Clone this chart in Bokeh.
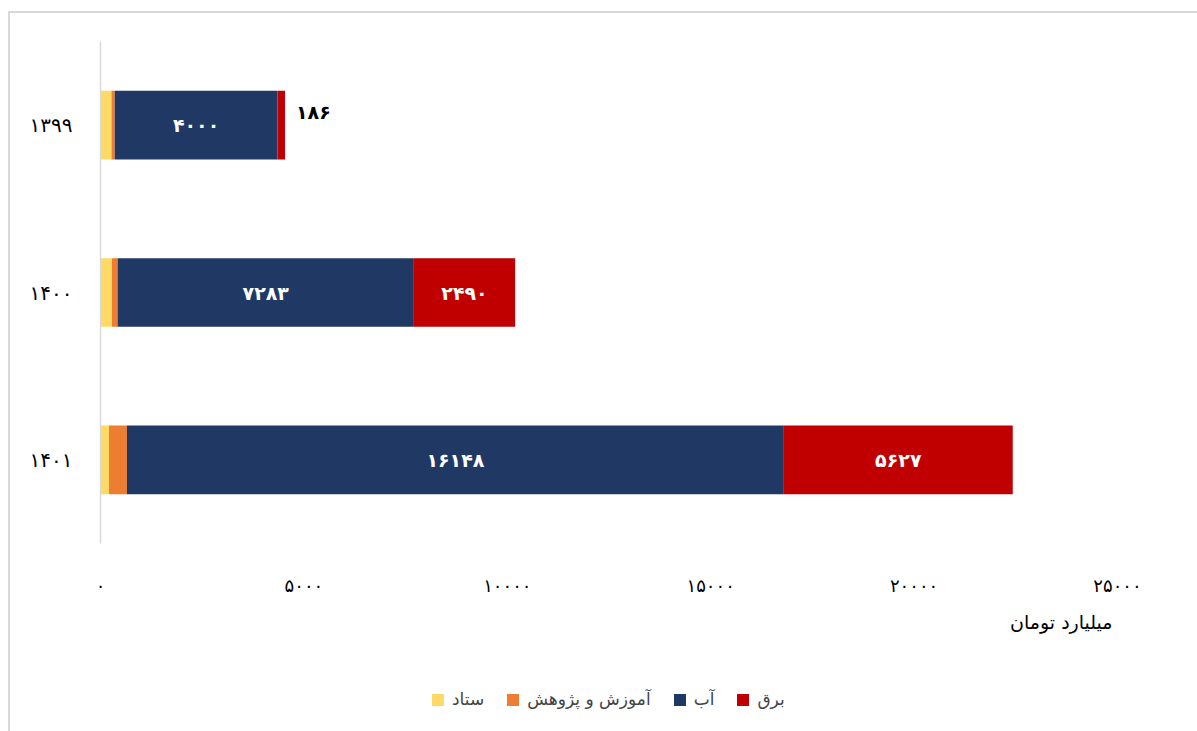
from bokeh.plotting import figure
from bokeh.layouts import column
from bokeh.models import (ColumnDataSource, FactorRange, Range1d, FixedTicker,
                          Legend, LegendItem, Title)
from bokeh.core.properties import value
from bokeh.embed import file_html
from bokeh.resources import INLINE

# ---- data ----
years = ["۱۳۹۹", "۱۴۰۰", "۱۴۰۱"]
series_names = ["ستاد", "آموزش و پژوهش", "آب", "برق"]
setad = [270, 280, 210]
amoozesh = [80, 140, 440]
ab = [4000, 7283, 16148]
bargh = [186, 2490, 5627]
x_ticks = [0, 5000, 10000, 15000, 20000, 25000]
x_title = "میلیارد تومان"
colors = ["#FFD966", "#ED7D31", "#203864", "#C00000"]

FA = str.maketrans("0123456789", "۰۱۲۳۴۵۶۷۸۹")
def fa(n):
    return str(n).translate(FA)

FONT = "DejaVu Sans"

keys = ["setad", "amoozesh", "ab", "bargh"]
source = ColumnDataSource(dict(year=years, setad=setad, amoozesh=amoozesh, ab=ab, bargh=bargh))

p = figure(width=1189, height=650, output_backend="svg", toolbar_location=None,
           y_range=FactorRange(factors=years[::-1]), x_range=Range1d(0, 25000),
           min_border_left=90, min_border_top=28, min_border_right=82, min_border_bottom=120)
p.outline_line_color = None
p.xgrid.visible = False
p.ygrid.visible = False

renderers = p.hbar_stack(keys, y="year", height=0.41, color=colors, line_color=None, source=source)

# data labels
in_x, in_y, in_t = [], [], []
out_x, out_y, out_t = [], [], []
for i, yr in enumerate(years):
    base = setad[i] + amoozesh[i]
    in_x.append(base + ab[i] / 2); in_y.append(yr); in_t.append(fa(ab[i]))
    total = base + ab[i] + bargh[i]
    if bargh[i] > 1000:
        in_x.append(total - bargh[i] / 2); in_y.append(yr); in_t.append(fa(bargh[i]))
    else:
        out_x.append(total); out_y.append(yr); out_t.append(fa(bargh[i]))

p.text(x=in_x, y=in_y, text=in_t, text_color="white", text_font=value(FONT),
       text_font_style="bold", text_font_size="19px", text_align="center", text_baseline="middle")
p.text(x=out_x, y=out_y, text=out_t, text_color="black", text_font=value(FONT),
       text_font_style="bold", text_font_size="19px", text_align="left", text_baseline="middle",
       x_offset=11, y_offset=-13)

# axes
xa = p.xaxis[0]
xa.ticker = FixedTicker(ticks=x_ticks)
xa.major_label_overrides = {t: fa(t) for t in x_ticks}
xa.axis_line_color = None
xa.major_tick_line_color = None
xa.minor_tick_line_color = None
xa.major_label_text_font = FONT
xa.major_label_text_font_size = "18px"
xa.major_label_text_color = "#000000"
xa.major_label_standoff = 25

ya = p.yaxis[0]
ya.axis_line_color = "#d9d9d9"
ya.axis_line_width = 1.5
ya.major_tick_line_color = None
ya.minor_tick_line_color = None
ya.major_label_text_font = FONT
ya.major_label_text_font_size = "20px"
ya.major_label_text_color = "#000000"
ya.major_label_standoff = 22

p.add_layout(Title(text=x_title, align="right", text_font=FONT, text_font_size="19px",
                   text_font_style="normal", text_color="#000000", standoff=20, offset=5), "below")

# legend strip below the chart (swatch renderers lie far outside the visible range)
p2 = figure(width=1189, height=70, output_backend="svg", toolbar_location=None,
            x_range=Range1d(0, 1), y_range=Range1d(0, 1), x_axis_type=None, y_axis_type=None,
            min_border=0)
p2.outline_line_color = None
p2.xgrid.visible = False
p2.ygrid.visible = False
leg_renderers = [p2.hbar(y=[-50], left=[50], right=[51], height=0.1, color=c, line_color=None)
                 for c in colors]
legend = Legend(items=[LegendItem(label=n, renderers=[r]) for n, r in zip(series_names, leg_renderers)],
                orientation="horizontal", location=(330, 24),
                glyph_width=15, glyph_height=15, label_standoff=7, spacing=21,
                label_text_font=FONT, label_text_font_size="17px",
                border_line_color=None, background_fill_alpha=0, padding=0, margin=0)
p2.add_layout(legend, "center")

layout = column(p, p2, spacing=0)
layout.margin = (11, 0, 0, 8)
layout.styles = {"border-top": "2px solid #d9d9d9", "border-left": "2px solid #d9d9d9"}

open("out.html", "w").write(file_html(layout, INLINE))
